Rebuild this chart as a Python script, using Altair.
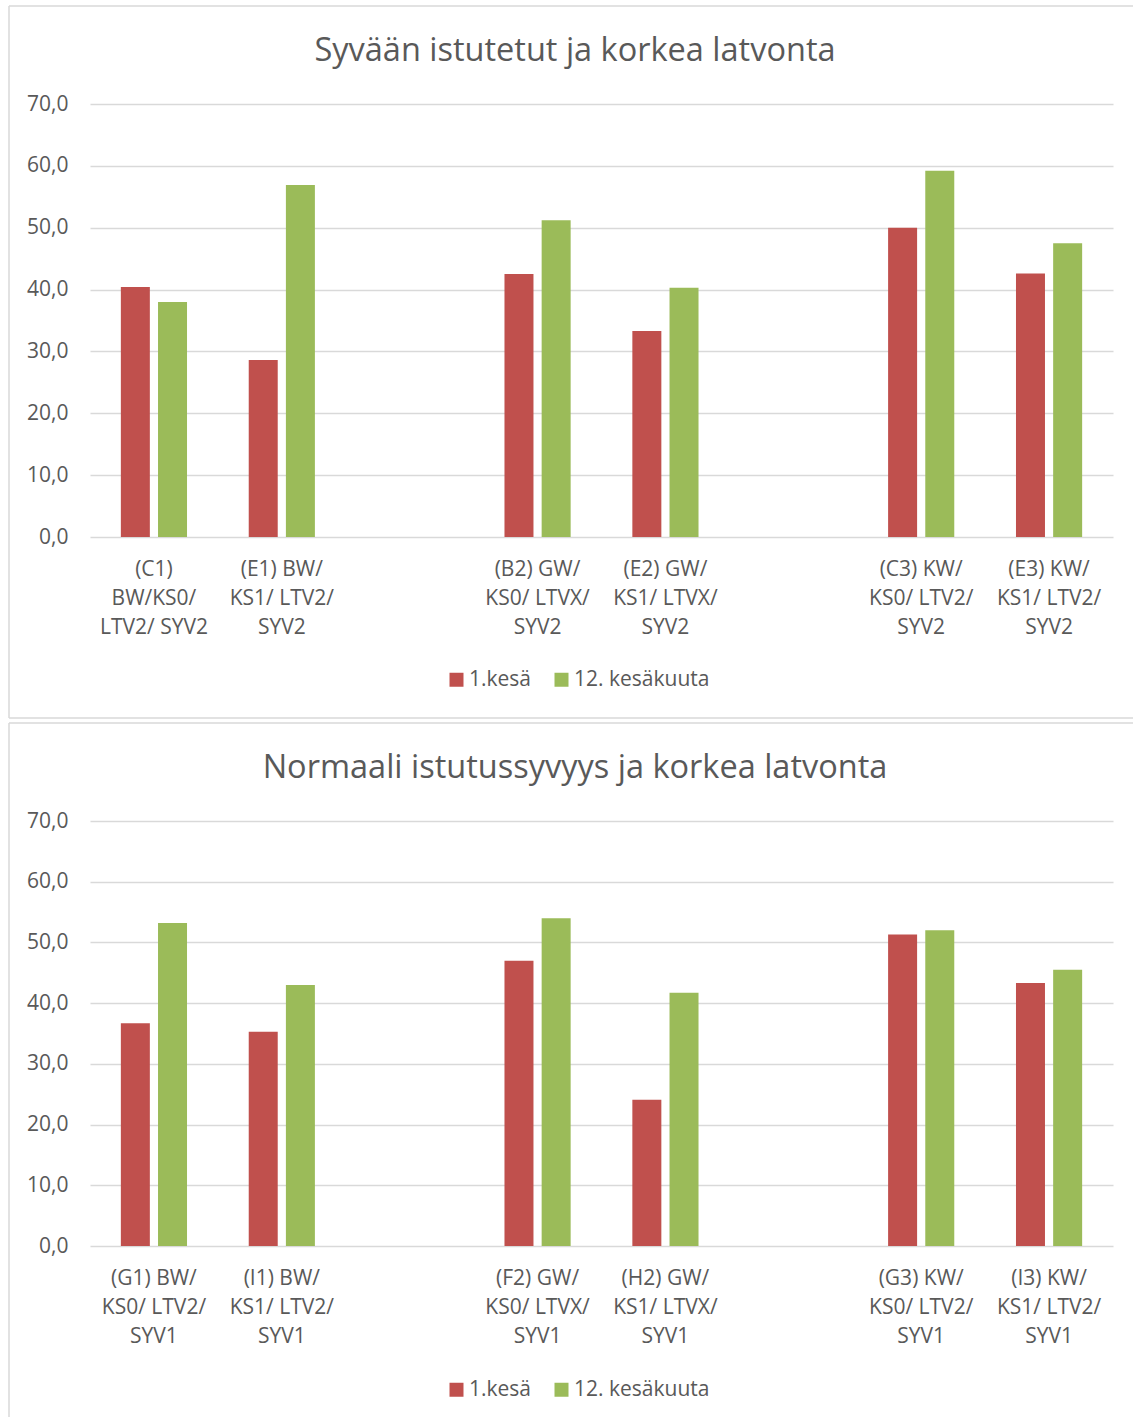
import altair as alt
import pandas as pd

# Series names and colours
series = ["1.kesä", "12. kesäkuuta"]
series_colors = ["#C0504D", "#9BBB59"]

# Upper panel: deep planting
top_title = "Syvään istutetut ja korkea latvonta"
top_cats = [
    "(C1)|BW/KS0/|LTV2/ SYV2",
    "(E1) BW/|KS1/ LTV2/|SYV2",
    "(B2) GW/|KS0/ LTVX/|SYV2",
    "(E2) GW/|KS1/ LTVX/|SYV2",
    "(C3) KW/|KS0/ LTV2/|SYV2",
    "(E3) KW/|KS1/ LTV2/|SYV2",
]
top_first = [40.4, 28.6, 42.5, 33.3, 50.0, 42.6]
top_second = [38.0, 56.9, 51.2, 40.3, 59.2, 47.5]

# Lower panel: normal planting depth
bottom_title = "Normaali istutussyvyys ja korkea latvonta"
bottom_cats = [
    "(G1) BW/|KS0/ LTV2/|SYV1",
    "(I1) BW/|KS1/ LTV2/|SYV1",
    "(F2) GW/|KS0/ LTVX/|SYV1",
    "(H2) GW/|KS1/ LTVX/|SYV1",
    "(G3) KW/|KS0/ LTV2/|SYV1",
    "(I3) KW/|KS1/ LTV2/|SYV1",
]
bottom_first = [36.7, 35.3, 47.0, 24.1, 51.3, 43.3]
bottom_second = [53.2, 43.0, 54.0, 41.7, 52.0, 45.5]

y_ticks = [0, 10, 20, 30, 40, 50, 60, 70]

FONT = "Open Sans"
TEXT = "#595959"
GRID = "#D9D9D9"
PLOT_W = 1023


def panel(title, cats, first, second, height, legend_y, closed):
    rows = []
    for c, a, b in zip(cats, first, second):
        rows.append({"cat": c, "series": series[0], "value": a})
        rows.append({"cat": c, "series": series[1], "value": b})
    df = pd.DataFrame(rows)

    # empty slots separate the three groups of bar pairs
    slots = cats[:2] + ["gap1"] + cats[2:4] + ["gap2"] + cats[4:]

    bars = alt.Chart(df).mark_bar().encode(
        x=alt.X(
            "cat:N",
            scale=alt.Scale(domain=slots, paddingInner=0, paddingOuter=0),
            sort=slots,
            axis=alt.Axis(
                title=None,
                labelAngle=0,
                domain=False,
                ticks=False,
                labelPadding=21,
                labelLineHeight=29,
                labelFontSize=21,
                labelFont=FONT,
                labelColor=TEXT,
                labelLimit=0,
                labelOverlap=False,
                labelExpr="indexof(datum.value, 'gap') == 0 ? '' : split(datum.value, '|')",
            ),
        ),
        xOffset=alt.XOffset(
            "series:N",
            scale=alt.Scale(domain=series, paddingInner=0.22, paddingOuter=0.83),
            sort=series,
        ),
        y=alt.Y(
            "value:Q",
            scale=alt.Scale(domain=[0, 70], nice=False),
            axis=alt.Axis(
                title=None,
                values=y_ticks,
                domain=False,
                ticks=False,
                grid=True,
                gridColor=GRID,
                gridWidth=1.4,
                labelPadding=22,
                labelFontSize=21,
                labelFont=FONT,
                labelColor=TEXT,
                labelExpr="replace(format(datum.value, '.1f'), '.', ',')",
            ),
        ),
        color=alt.Color(
            "series:N",
            scale=alt.Scale(domain=series, range=series_colors),
            legend=alt.Legend(
                title=None,
                orient="none",
                direction="horizontal",
                legendX=356,
                legendY=legend_y,
                symbolType="square",
                symbolSize=196,
                symbolStrokeWidth=0,
                labelFontSize=21,
                labelFont=FONT,
                labelColor=TEXT,
                labelOffset=2,
                columnPadding=19,
                padding=0,
            ),
        ),
    )

    # thin grey outline around the panel (top, left and, for the upper one, bottom edges)
    one = pd.DataFrame({"k": [0]})
    edge = dict(color=GRID, strokeWidth=1.5)
    bottom_y = height + 181 if closed else 596
    layers = [
        alt.Chart(one).mark_rule(**edge).encode(
            x=alt.value(-81), x2=alt.value(1043), y=alt.value(-98)
        ),
        alt.Chart(one).mark_rule(**edge).encode(
            x=alt.value(-81), y=alt.value(-98), y2=alt.value(bottom_y)
        ),
    ]
    if closed:
        layers.append(
            alt.Chart(one).mark_rule(**edge).encode(
                x=alt.value(-81), x2=alt.value(1043), y=alt.value(bottom_y)
            )
        )
    layers.append(bars)

    return alt.layer(*layers).properties(
        width=PLOT_W,
        height=height,
        title=alt.TitleParams(
            title,
            font=FONT,
            fontSize=32.5,
            fontWeight="normal",
            color=TEXT,
            anchor="middle",
            frame="bounds",
            baseline="middle",
            offset=-43,
            dy=35,
            dx=4,
        ),
    )


upper = panel(top_title, top_cats, top_first, top_second, 433, 565, True)
lower = panel(bottom_title, bottom_cats, bottom_first, bottom_second, 425, 558, False)

chart = (
    alt.vconcat(upper, lower, spacing=3)
    .resolve_scale(color="independent", xOffset="independent")
    .resolve_legend(color="independent")
    .properties(padding={"left": 8, "top": 5, "right": 0, "bottom": 0}, background="white")
    .configure_view(stroke=None)
)

chart.save("out.html", embed_options={"renderer": "svg", "actions": False})
